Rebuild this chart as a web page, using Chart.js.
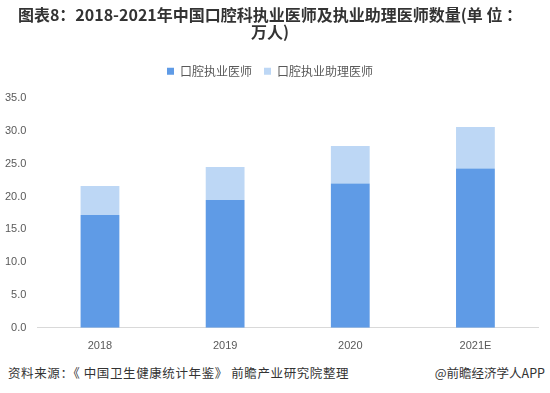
<!DOCTYPE html>
<html>
<head>
<meta charset="utf-8">
<script src="https://cdn.jsdelivr.net/npm/chart.js@4/dist/chart.umd.min.js"></script>
<style>
  body { margin: 0; background: #fff; }
  #wrap { position: relative; width: 550px; height: 393px; }
  #chart-box { position: absolute; left: 0; top: 0; width: 550px; height: 357px; }
  .foot { position: absolute; top: 363px; font-family: "Noto Sans CJK SC", sans-serif; font-size: 12.5px; color: #333; white-space: nowrap; }
</style>
</head>
<body>
<div id="wrap">
  <div id="chart-box"><canvas id="doctor-chart"></canvas></div>
  <div class="foot" style="left:8px; letter-spacing:0.6px">资料来源：《 中国卫生健康统计年鉴》 前瞻产业研究院整理</div>
  <div class="foot" style="right:5px">@前瞻经济学人APP</div>
</div>
<script>
// data (unit: 万人)
let years = ['2018', '2019', '2020', '2021E']
let practitioners = [17.2, 19.5, 22.0, 24.3]
let assistants = [4.4, 5.0, 5.7, 6.3]
let seriesNames = ['口腔执业医师', '口腔执业助理医师']
let yTicks = [0, 5, 10, 15, 20, 25, 30, 35]

let ctx = document.querySelector('#doctor-chart').getContext('2d')

// push the plot area down a bit below the legend
let legendGap = {
    id: 'legendGap',
    beforeInit(chart) {
        let fit = chart.legend.fit
        chart.legend.fit = function() {
            fit.bind(chart.legend)()
            this.height += 11
        }
    }
}

let doctorChart = new Chart(ctx, {
    type: 'bar',
    data: {
        labels: years,
        datasets: [
            {
                label: seriesNames[0],
                data: practitioners,
                backgroundColor: '#5f9be6',
                barPercentage: 0.31,
                categoryPercentage: 1
            },
            {
                label: seriesNames[1],
                data: assistants,
                backgroundColor: '#bdd7f5',
                barPercentage: 0.31,
                categoryPercentage: 1
            }
        ]
    },
    plugins: [legendGap],
    options: {
        responsive: true,
        maintainAspectRatio: false,
        animation: false,
        layout: { padding: { left: 2, right: 12, top: 4, bottom: 0 } },
        plugins: {
            title: {
                display: true,
                text: ['图表8：2018-2021年中国口腔科执业医师及执业助理医师数量(单 位 ：', '万人)'],
                color: '#333',
                font: { family: 'Noto Sans CJK SC', size: 16, weight: 'bold', lineHeight: 1.1 },
                padding: { top: 2, bottom: 12 }
            },
            legend: {
                labels: {
                    boxWidth: 7,
                    boxHeight: 7,
                    padding: 12,
                    color: '#595959',
                    font: { family: 'Noto Sans CJK SC', size: 12 }
                }
            },
            tooltip: { enabled: false }
        },
        scales: {
            x: {
                stacked: true,
                grid: { display: false },
                border: { color: '#d9d9d9' },
                ticks: { color: '#595959', padding: 4, font: { family: 'Liberation Sans', size: 11 } }
            },
            y: {
                stacked: true,
                min: yTicks[0],
                max: yTicks[yTicks.length - 1],
                afterBuildTicks: function(axis) {
                    axis.ticks = yTicks.map(v => ({ value: v }))
                },
                grid: { display: false },
                border: { display: false },
                ticks: {
                    color: '#595959',
                    font: { family: 'Liberation Sans', size: 11 },
                    callback: v => v.toFixed(1)
                }
            }
        }
    }
})
</script>
</body>
</html>
